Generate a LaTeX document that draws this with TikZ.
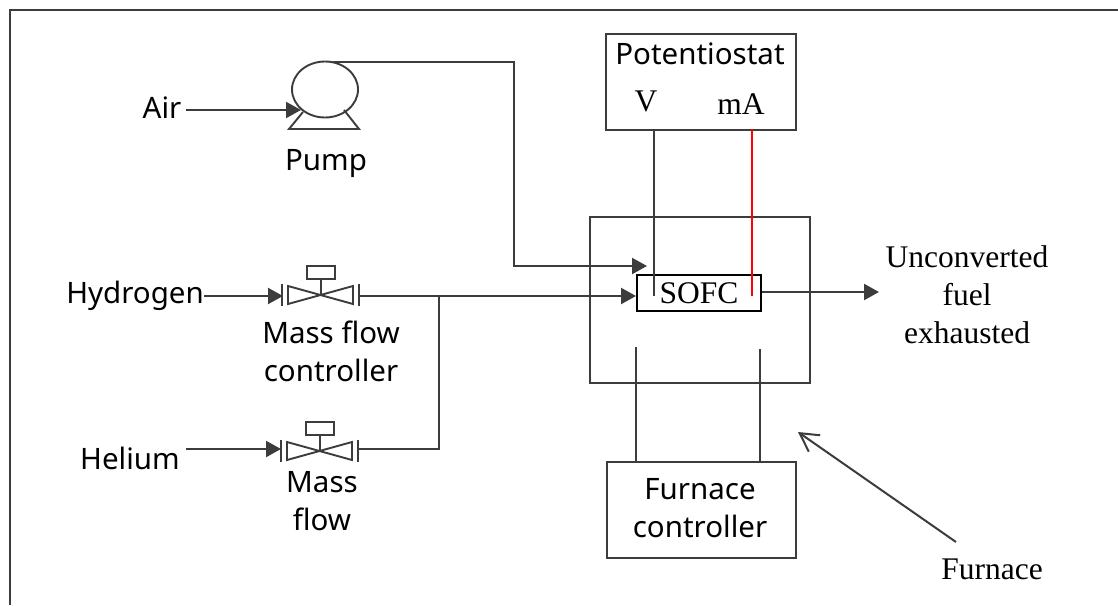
\documentclass[tikz,border=0pt]{standalone}
\usepackage{fontspec}
\setmainfont{Liberation Serif}
\newfontfamily\tah{Noto Sans}
\usetikzlibrary{arrows.meta}
\definecolor{ln}{HTML}{3C3C3C}
\tikzset{
  x=1pt,y=-1pt,
  pipe/.style={draw=ln,line width=2.2pt},
  thin line/.style={draw=ln,line width=1.9pt},
  flow/.style={pipe,-{Triangle[length=15pt,width=16pt]}},
  sans/.style={font=\tah\fontsize{29.5}{38}\selectfont,text=black,inner sep=0pt,align=center},
  serif/.style={font=\fontsize{31.5}{38}\selectfont,text=black,inner sep=0pt,align=center},
  boxed/.style={draw=ln,line width=1.9pt,inner sep=0pt},
  valve/.pic={
    \draw[thin line] (-33,-9) -- (-33,9) -- (32,-9) -- (32,9) -- cycle;
    \draw[thin line] (-39,-11) -- (-39,11);
    \draw[thin line] (38,-11) -- (38,11);
    \draw[thin line] (0,0) -- (0,-16);
    \draw[thin line] (-14,-29) rectangle (14,-16);
  }
}
\begin{document}
\begin{tikzpicture}
\useasboundingbox (0,0) rectangle (1118,605);
\fill[white] (0,0) rectangle (1118,605);
\draw[thin line] (10,605) -- (10,10) -- (1118,10);
% boxes
\node[boxed,minimum width=190pt,minimum height=96pt,anchor=north west] (pot) at (605,33) {};
\node[boxed,minimum width=220pt,minimum height=166pt,anchor=north west] (fur) at (589,216) {};
\node[boxed,minimum width=189pt,minimum height=96pt,anchor=north west] (ctl) at (606,461) {};
\node[draw=black,line width=1.9pt,fill=white,minimum width=124pt,minimum height=36pt,anchor=north west,inner sep=0pt,font=\fontsize{31.5}{34}\selectfont] (sofc) at (636,274) {SOFC};
% labels
\node[sans] (tpot) at (700,54) {Potentiostat};
\node[serif] (tv) at (646,101) {V};
\node[serif] (tma) at (741,104) {mA};
\node[sans] (tair) at (162,108) {Air};
\node[sans] (tpump) at (326,164) {Pump};
\node[sans] (th) at (135,296) {Hydrogen};
\node[sans] (tm1) at (331,351) {Mass flow\\controller};
\node[sans] (the) at (130,458) {Helium};
\node[sans] (tm2) at (322,501) {Mass\\flow};
\node[sans] (tctl) at (700,508) {Furnace\\controller};
\node[serif] (tun) at (967,295) {Unconverted\\fuel\\exhausted};
\node[serif] (tfur) at (992,569) {Furnace};
% pump
\coordinate (pc) at (325,89.5);
\draw[thin line] (pc) ellipse [x radius=33pt,y radius=28pt];
\draw[thin line] (303,112) -- (289,129) -- (359,129) -- (344,110);
% valves
\path (321,295) pic {valve};
\path (320,451) pic {valve};
% connectors
\coordinate (airS) at (186,110);
\coordinate (airE) at (301,110);
\draw[flow] (airS) -- (airE);
\coordinate (pumpOut) at (333,62);
\coordinate (pumpInE) at (647,266);
\draw[flow] (pumpOut) -- (514,62) -- (514,266) -- (pumpInE);
\coordinate (h2S) at (204,296);
\coordinate (h2E) at (283,296);
\draw[flow] (h2S) -- (h2E);
\coordinate (v1out) at (359,296);
\draw[flow] (v1out) -- (sofc.west |- v1out);
\coordinate (heS) at (186,449);
\coordinate (heE) at (281,449);
\draw[flow] (heS) -- (heE);
\coordinate (v2out) at (358,449);
\coordinate (junc) at (439,296);
\draw[pipe] (v2out) -- (439,449) -- (junc);
\coordinate (outE) at (879,292);
\draw[flow] (sofc.east |- outE) -- (outE);
\coordinate (vEnd) at (654,296);
\draw[thin line] (654,129) -- (vEnd);
\coordinate (mEnd) at (752,296);
\draw[draw=red,line width=1.9pt] (752,129) -- (mEnd);
\draw[thin line] (636,347) -- (636,461);
\draw[thin line] (760,349) -- (760,461);
\coordinate (fa) at (798,432);
\coordinate (fb) at (956,542);
\draw[draw=ln,line width=2pt,-{Straight Barb[length=18pt,width=20pt]}] (fb) -- (fa);
\end{tikzpicture}
\end{document}
